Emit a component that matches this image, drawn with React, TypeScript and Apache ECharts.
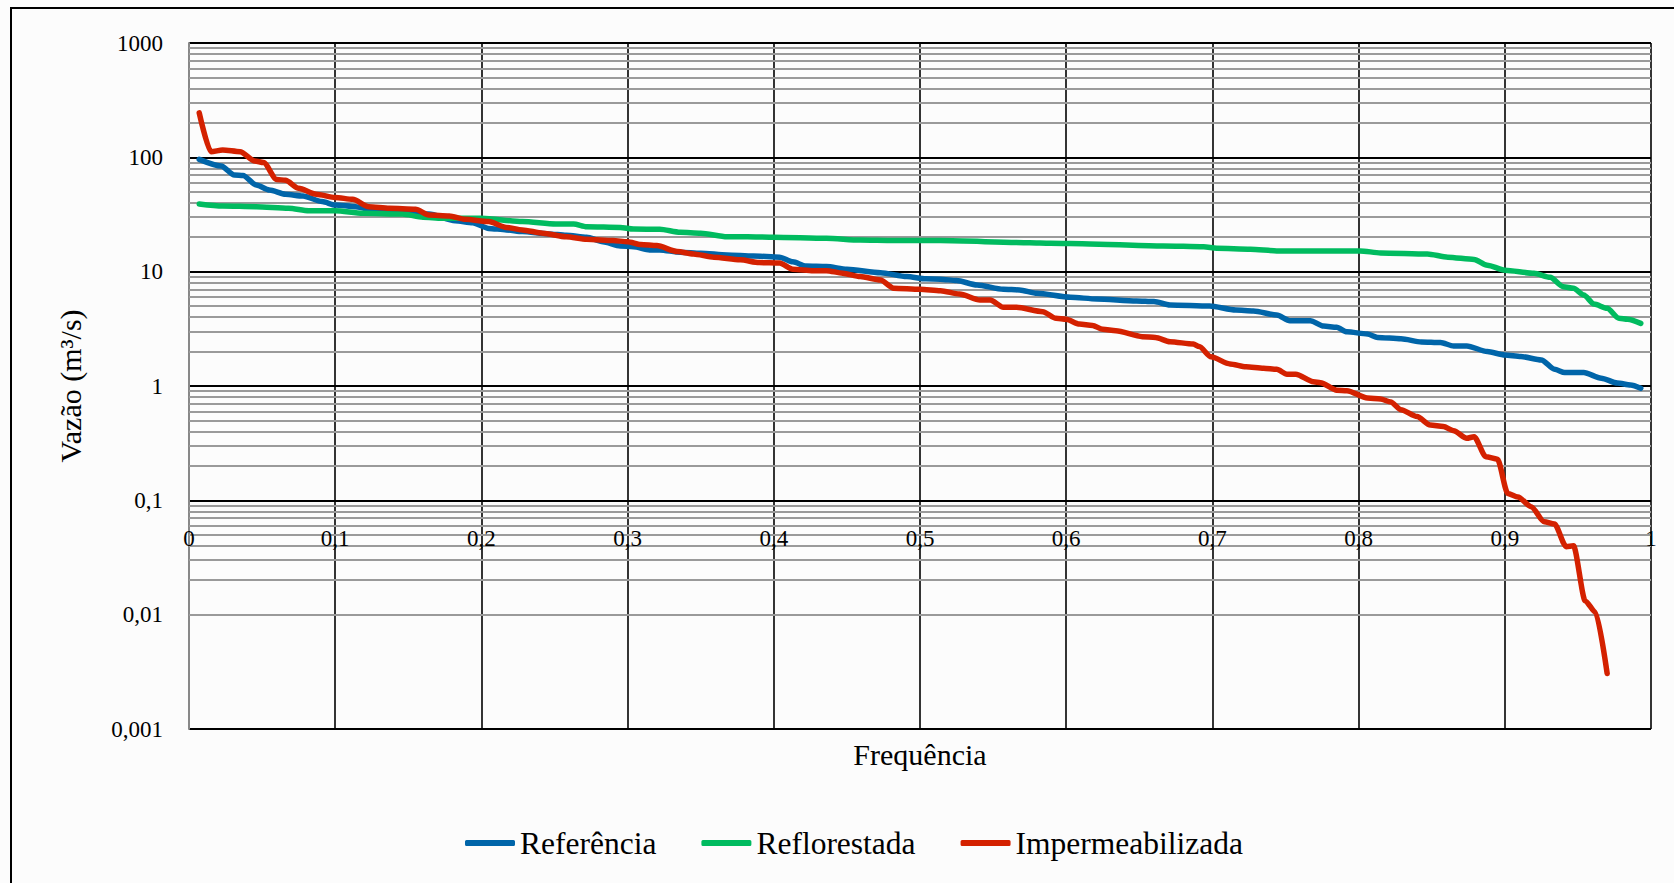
import React, { useEffect, useRef } from "react";
import * as echarts from "echarts";

// Referência
const FREQ_REF = [0.007, 0.022, 0.031, 0.037, 0.046, 0.055, 0.066, 0.078, 0.091, 0.1, 0.114, 0.128, 0.15, 0.164, 0.182, 0.194, 0.205, 0.217, 0.228, 0.246, 0.258, 0.272, 0.283, 0.295, 0.304, 0.315, 0.322, 0.336, 0.35, 0.368, 0.386, 0.404, 0.413, 0.422, 0.436, 0.45, 0.473, 0.491, 0.504, 0.514, 0.525, 0.539, 0.557, 0.568, 0.58, 0.603, 0.621, 0.648, 0.66, 0.671, 0.698, 0.716, 0.728, 0.744, 0.753, 0.767, 0.776, 0.785, 0.792, 0.806, 0.813, 0.829, 0.843, 0.856, 0.865, 0.874, 0.888, 0.9, 0.911, 0.925, 0.934, 0.941, 0.954, 0.966, 0.977, 0.986, 0.993];
const Q_REF = [96, 84, 70, 69.5, 57.3, 51.8, 47.5, 45.9, 41, 38.3, 37, 34.1, 32.8, 31.9, 27.9, 26.8, 23.9, 23.2, 22.4, 21.4, 20.8, 20, 18.3, 16.8, 16.5, 15.5, 15.5, 14.8, 14.5, 14, 13.7, 13.4, 12.2, 11.2, 11.1, 10.5, 9.8, 9.06, 8.65, 8.6, 8.36, 7.66, 7.02, 6.92, 6.47, 5.97, 5.77, 5.54, 5.47, 5.12, 5.01, 4.62, 4.53, 4.18, 3.73, 3.73, 3.34, 3.26, 2.98, 2.85, 2.66, 2.59, 2.43, 2.4, 2.24, 2.24, 2.0, 1.87, 1.81, 1.69, 1.4, 1.31, 1.31, 1.17, 1.06, 1.02, 0.955];

// Reflorestada
const FREQ_REFL = [0.007, 0.023, 0.046, 0.068, 0.082, 0.1, 0.119, 0.146, 0.16, 0.173, 0.2, 0.228, 0.251, 0.263, 0.272, 0.295, 0.304, 0.322, 0.336, 0.35, 0.368, 0.382, 0.4, 0.436, 0.459, 0.482, 0.514, 0.575, 0.589, 0.616, 0.666, 0.694, 0.703, 0.726, 0.744, 0.767, 0.801, 0.815, 0.847, 0.861, 0.879, 0.888, 0.9, 0.92, 0.931, 0.94, 0.947, 0.954, 0.961, 0.97, 0.978, 0.984, 0.993];
const Q_REFL = [39.1, 37.5, 37, 35.8, 34.1, 34.1, 32.4, 31.9, 29.9, 29.3, 29.3, 27.4, 26.1, 26.1, 24.7, 24.4, 23.6, 23.5, 22.1, 21.7, 20.2, 20.2, 20, 19.6, 18.9, 18.7, 18.7, 17.9, 17.7, 17.5, 16.8, 16.5, 16, 15.7, 15.2, 15.2, 15.2, 14.6, 14.3, 13.4, 12.8, 11.4, 10.3, 9.68, 8.93, 7.39, 7.16, 6.26, 5.21, 4.78, 3.91, 3.83, 3.53];

// Impermeabilizada
const FREQ_IMP = [0.007, 0.015, 0.023, 0.035, 0.045, 0.051, 0.06, 0.066, 0.075, 0.087, 0.1, 0.112, 0.123, 0.137, 0.155, 0.164, 0.178, 0.189, 0.205, 0.217, 0.228, 0.242, 0.258, 0.272, 0.29, 0.3, 0.309, 0.32, 0.334, 0.345, 0.359, 0.377, 0.39, 0.404, 0.413, 0.427, 0.436, 0.447, 0.459, 0.473, 0.482, 0.5, 0.514, 0.527, 0.541, 0.548, 0.557, 0.566, 0.584, 0.593, 0.6, 0.609, 0.618, 0.625, 0.634, 0.652, 0.661, 0.671, 0.687, 0.691, 0.699, 0.712, 0.723, 0.735, 0.744, 0.751, 0.757, 0.769, 0.774, 0.785, 0.792, 0.806, 0.815, 0.822, 0.829, 0.84, 0.849, 0.858, 0.865, 0.874, 0.879, 0.887, 0.895, 0.902, 0.909, 0.918, 0.927, 0.934, 0.942, 0.947, 0.955, 0.962, 0.97];
const Q_IMP = [245, 112, 116, 112, 93, 90, 64, 63, 53.6, 47.5, 44.6, 42.9, 37, 35.8, 35.1, 31.3, 30.7, 28.7, 27.4, 24.4, 23.2, 21.7, 20.2, 19.2, 18.7, 18.3, 17.3, 16.9, 15, 14.3, 13.4, 12.7, 12, 11.9, 10.5, 10.2, 10.2, 9.7, 9.06, 8.47, 7.17, 7.02, 6.82, 6.38, 5.65, 5.65, 4.88, 4.88, 4.47, 3.91, 3.83, 3.48, 3.39, 3.13, 3.04, 2.7, 2.66, 2.44, 2.33, 2.21, 1.8, 1.56, 1.47, 1.43, 1.4, 1.27, 1.27, 1.09, 1.07, 0.92, 0.91, 0.785, 0.77, 0.725, 0.62, 0.54, 0.456, 0.442, 0.407, 0.349, 0.36, 0.241, 0.229, 0.115, 0.107, 0.088, 0.065, 0.062, 0.0393, 0.04, 0.0132, 0.0105, 0.00306];

const SERIES_NAMES = ["Referência", "Reflorestada", "Impermeabilizada"];
const SERIES_COLORS = ["#0065a9", "#00bb5f", "#d42100"];

// Minor grid (log decade subdivisions)
const DECADE_STARTS = [0.001, 0.01, 0.1, 1, 10, 100];
const MINOR_MULTS = [2, 3, 4, 5, 6, 7, 8, 9];

const FONT = "'Liberation Serif', 'Times New Roman', serif";

const fmt = (v: number) => parseFloat(Number(v).toPrecision(4)).toString().replace(".", ",");

export default function App() {
  const ref = useRef<HTMLDivElement>(null);

  useEffect(() => {
    document.body.style.margin = "0";
    if (!ref.current) return;
    const chart = echarts.init(ref.current, null, { renderer: "svg" });

    const pairs = (xs: number[], ys: number[]) => xs.map((x, i) => [x, ys[i]]);
    const minorValues: number[] = [];
    DECADE_STARTS.forEach((d) => MINOR_MULTS.forEach((m) => minorValues.push(parseFloat((d * m).toPrecision(3)))));

    const lineSeries = [
      pairs(FREQ_REF, Q_REF),
      pairs(FREQ_REFL, Q_REFL),
      pairs(FREQ_IMP, Q_IMP),
    ].map((data, i) => ({
      name: SERIES_NAMES[i],
      type: "line",
      xAxisIndex: 0,
      data,
      showSymbol: false,
      symbol: "none",
      smooth: 0.25,
      smoothMonotone: "x",
      z: 4 + i,
      lineStyle: { width: 5.5, color: SERIES_COLORS[i], cap: "round", join: "round" },
      itemStyle: { color: SERIES_COLORS[i] },
    }));

    chart.setOption({
      animation: false,
      backgroundColor: "#fcfcfc",
      textStyle: { fontFamily: FONT },
      graphic: [
        {
          type: "rect",
          silent: true,
          z: -1,
          shape: { x: 11, y: 8, width: 1720, height: 920 },
          style: { fill: "none", stroke: "#000", lineWidth: 2 },
        },
      ],
      grid: { left: 189, top: 43, right: 23, bottom: 154, containLabel: false },
      legend: {
        data: SERIES_NAMES,
        left: 460,
        top: 822,
        icon: "roundRect",
        itemWidth: 50,
        itemHeight: 6,
        itemGap: 45,
        textStyle: { fontSize: 31.5, color: "#000", fontFamily: FONT },
      },
      xAxis: [
        {
          type: "value",
          min: 0,
          max: 1,
          interval: 0.1,
          position: "bottom",
          axisLine: { show: false },
          axisTick: { show: false },
          axisLabel: { show: false },
          splitLine: { show: true, showMinLine: false, lineStyle: { color: "#000", width: 1.6 } },
        },
        {
          type: "value",
          min: 0,
          max: 1,
          interval: 0.1,
          position: "bottom",
          offset: -229,
          z: 6,
          axisLine: { show: false },
          axisTick: { show: false },
          splitLine: { show: false },
          axisLabel: {
            margin: 27,
            fontSize: 23,
            color: "#000",
            fontFamily: FONT,
            formatter: (v: number) => fmt(v),
          },
          name: "Frequência",
          nameLocation: "middle",
          nameGap: 239,
          nameTextStyle: { fontSize: 30, color: "#000", fontFamily: FONT },
        },
      ],
      yAxis: {
        type: "log",
        logBase: 10,
        min: 0.001,
        max: 1000,
        splitNumber: 6,
        axisLine: { show: true, lineStyle: { color: "#888", width: 2 } },
        axisTick: { show: false },
        axisLabel: {
          margin: 26,
          fontSize: 23,
          color: "#000",
          fontFamily: FONT,
          padding: [11, 0, 0, 0],
          formatter: (v: number) => fmt(v),
        },
        splitLine: { show: true, lineStyle: { color: "#000", width: 2 } },
        name: "Vazão (m³/s)",
        nameLocation: "middle",
        nameGap: 104,
        nameTextStyle: { fontSize: 30, color: "#000", fontFamily: FONT },
      },
      series: [
        {
          name: "minor-grid",
          type: "line",
          data: [],
          z: 1,
          silent: true,
          markLine: {
            z: 1,
            silent: true,
            symbol: ["none", "none"],
            label: { show: false },
            lineStyle: { color: "#9a9a9a", width: 2, type: "solid" },
            emphasis: { disabled: true },
            data: minorValues.map((v) => ({ yAxis: v })),
          },
        },
        ...lineSeries,
      ],
    });

    return () => chart.dispose();
  }, []);

  return <div ref={ref} style={{ width: 1674, height: 883 }} />;
}
